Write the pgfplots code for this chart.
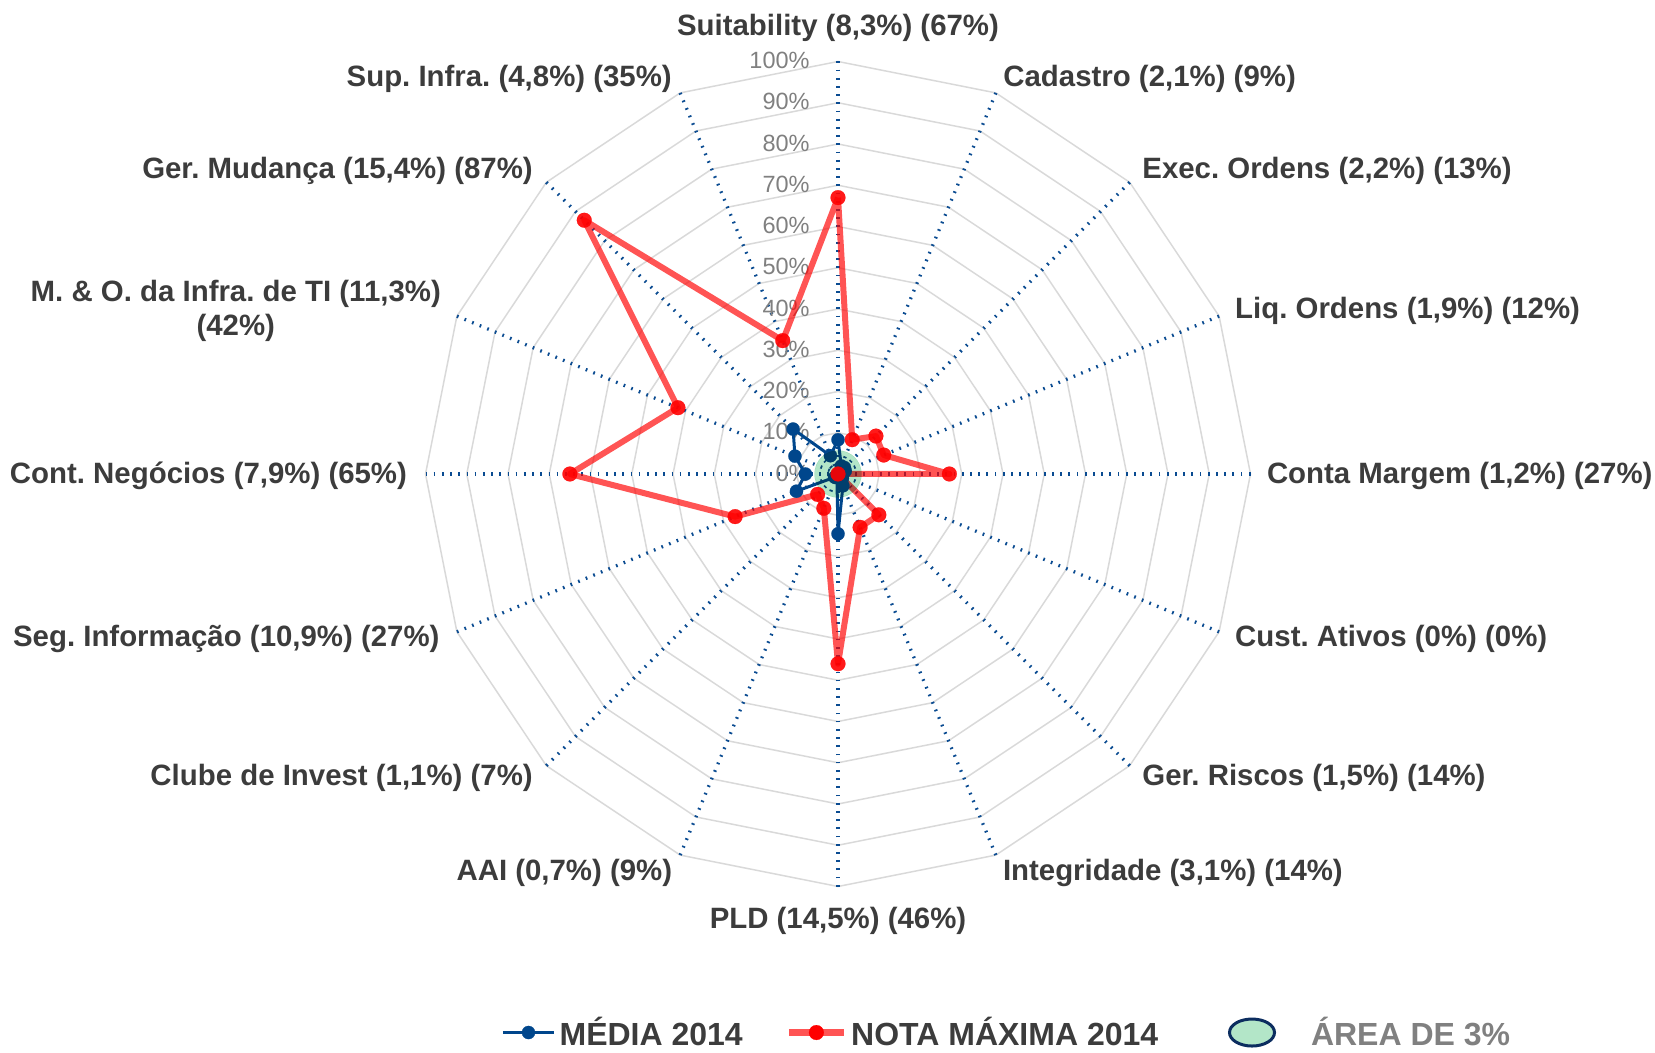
\documentclass[border=0pt]{standalone}
\usepackage{pgfplots}
\pgfplotsset{compat=1.18}
\usepackage{fontspec}
\setmainfont{Liberation Sans}
\frenchspacing
\definecolor{gridc}{RGB}{217,217,217}
\definecolor{spokec}{RGB}{10,75,145}
\definecolor{bluec}{RGB}{0,70,140}
\definecolor{areag}{RGB}{179,230,200}
\definecolor{navyc}{RGB}{12,45,95}
\definecolor{labc}{RGB}{60,60,60}
\definecolor{tickc}{RGB}{128,128,128}
\tikzset{lab/.style={font=\fontsize{14.7}{17.2}\selectfont\bfseries, text=labc, inner sep=0pt, text height=0.716em, text depth=0pt}}
\pgfplotsset{
  legblue/.style={legend image code/.code={\draw[##1, mark repeat=2, mark phase=2] plot coordinates {(0pt,0pt)(12.8pt,0pt)(25.6pt,0pt)};}},
  legred/.style={legend image code/.code={\draw[##1, mark repeat=2, mark phase=2] plot coordinates {(0pt,0pt)(13.75pt,0pt)(27.5pt,0pt)};}},
  legarea/.style={legend image code/.code={\draw[fill=areag, draw=navyc, line width=1.5pt] (12pt,0pt) ellipse [x radius=11.25pt, y radius=6.75pt]; \path[draw=none] (0pt,0pt) -- (39.5pt,0pt);}},
}

\newcommand\gridpoly[1]{\addplot[gridc, line width=0.75pt, data cs=polar, forget plot, mark=none] coordinates {(90,#1)(67.5,#1)(45,#1)(22.5,#1)(0,#1)(-22.5,#1)(-45,#1)(-67.5,#1)(-90,#1)(-112.5,#1)(-135,#1)(-157.5,#1)(-180,#1)(-202.5,#1)(-225,#1)(-247.5,#1)(-270,#1)};}
\newcommand\spoke[1]{\addplot[spokec, line width=1.65pt, dash pattern=on 0.85pt off 3.25pt, data cs=polar, forget plot, mark=none] coordinates {(#1,100)(#1,0)};}
\newcommand\tlab[1]{\node[anchor=east, inner sep=0pt, font=\fontsize{11.75}{14}\selectfont, text=tickc, text height=0.716em, text depth=0pt] at (axis cs:-6.8,#1) {#1\%};}

\begin{document}
\begin{tikzpicture}
\begin{axis}[
  x=2.0625pt, y=2.0625pt,
  xmin=-203.15, xmax=198.06, ymin=-140.12, ymax=114.91,
  enlargelimits=false, hide axis, clip=false,
  legend style={at={(axis cs:-81.6,-135.4)}, anchor=west, legend columns=3,
    draw=none, fill=none, inner sep=0pt, outer sep=0pt,
    font=\fontsize{16}{19}\selectfont\bfseries, text=labc,
    /tikz/column 2/.style={column sep=19.4pt},
    /tikz/column 4/.style={column sep=32.9pt}},
  legend cell align=left,
]
\coordinate (bbl) at (axis cs:-203.15,-140.12);
\coordinate (btr) at (axis cs:198.06,114.91);
% grid
\gridpoly{10}\gridpoly{20}\gridpoly{30}\gridpoly{40}\gridpoly{50}
\gridpoly{60}\gridpoly{70}\gridpoly{80}\gridpoly{90}\gridpoly{100}
% spokes
\spoke{90}\spoke{67.5}\spoke{45}\spoke{22.5}\spoke{0}\spoke{-22.5}\spoke{-45}\spoke{-67.5}
\spoke{-90}\spoke{-112.5}\spoke{-135}\spoke{-157.5}\spoke{180}\spoke{157.5}\spoke{135}\spoke{112.5}
% radial tick labels
\tlab{0}\tlab{10}\tlab{20}\tlab{30}\tlab{40}\tlab{50}\tlab{60}\tlab{70}\tlab{80}\tlab{90}\tlab{100}
% MEDIA 2014
\addplot[forget plot, bluec, line width=1.5pt, line join=round, data cs=polar,
  mark=*, mark size=3.3pt, mark options={solid, fill=bluec, draw=bluec, line width=0.1pt},
  mark indices={1,2,3,4,5,6,7,8,9,10,11,12,13,14,15,16}]
coordinates {
(90,8.3)(67.5,2.1)(45,2.2)(22.5,1.9)(0,1.2)(-22.5,0)(-45,1.5)(-67.5,3.1)
(-90,14.5)(-112.5,0.7)(-135,1.1)(-157.5,10.9)(-180,7.9)(-202.5,11.3)(-225,15.4)(-247.5,4.8)(-270,8.3)};
% AREA DE 3%
\addplot[forget plot, only marks, data cs=polar, mark=*, mark size=11.75pt,
  mark options={fill=areag, draw=areag, line width=0.1pt}, blend mode=multiply]
coordinates {(0,0)};
% NOTA MAXIMA 2014
\addplot[forget plot, red, draw opacity=0.67, line width=3pt, line join=round, data cs=polar,
  mark=*, mark size=3.7pt, mark options={solid, fill=red, draw=red, line width=0.1pt, opacity=0.9},
  mark indices={1,2,3,4,5,6,7,8,9,10,11,12,13,14,15,16}]
coordinates {
(90,67)(67.5,9)(45,13)(22.5,12)(0,27)(-22.5,0)(-45,14)(-67.5,14)
(-90,46)(-112.5,9)(-135,7)(-157.5,27)(-180,65)(-202.5,42)(-225,87)(-247.5,35)(-270,67)};
% legend
\addlegendimage{bluec, line width=1.5pt, mark=*, mark size=3.3pt, mark options={fill=bluec, draw=bluec, line width=0.1pt}, legblue}
\addlegendentry{MÉDIA 2014}
\addlegendimage{red, draw opacity=0.67, line width=3.3pt, mark=*, mark size=3.7pt, mark options={fill=red, draw=red, line width=0.1pt, opacity=1}, legred}
\addlegendentry{NOTA MÁXIMA 2014}
\addlegendimage{legarea}
\addlegendentry[text=tickc]{ÁREA DE 3\%}
% category labels
\node[lab, anchor=center] at (axis cs:0,108.0) {Suitability (8,3\%) (67\%)};
\node[lab, anchor=west] at (axis cs:40,95.6) {Cadastro (2,1\%) (9\%)};
\node[lab, anchor=west] at (axis cs:73.7,73.4) {Exec. Ordens (2,2\%) (13\%)};
\node[lab, anchor=west] at (axis cs:96.2,39.4) {Liq. Ordens (1,9\%) (12\%)};
\node[lab, anchor=west] at (axis cs:103.9,-0.5) {Conta Margem (1,2\%) (27\%)};
\node[lab, anchor=west] at (axis cs:96.2,-40.1) {Cust. Ativos (0\%) (0\%)};
\node[lab, anchor=west] at (axis cs:73.7,-73.9) {Ger. Riscos (1,5\%) (14\%)};
\node[lab, anchor=west] at (axis cs:39.9,-96.7) {Integridade (3,1\%) (14\%)};
\node[lab, anchor=center] at (axis cs:0,-108.5) {PLD (14,5\%) (46\%)};
\node[lab, anchor=east] at (axis cs:-40.1,-96.7) {AAI (0,7\%) (9\%)};
\node[lab, anchor=east] at (axis cs:-73.9,-73.9) {Clube de Invest (1,1\%) (7\%)};
\node[lab, anchor=east] at (axis cs:-96.5,-40.1) {Seg. Informação (10,9\%) (27\%)};
\node[lab, anchor=east] at (axis cs:-104.4,-0.5) {Cont. Negócios (7,9\%) (65\%)};
\node[font=\fontsize{14.7}{17.2}\selectfont\bfseries, text=labc, inner sep=0pt, align=center, anchor=east] at (axis cs:-96.2,39.6) {M. \& O. da Infra. de TI (11,3\%)\\(42\%)};
\node[lab, anchor=east] at (axis cs:-73.9,73.4) {Ger. Mudança (15,4\%) (87\%)};
\node[lab, anchor=east] at (axis cs:-40.2,95.7) {Sup. Infra. (4,8\%) (35\%)};
\end{axis}
\pgfresetboundingbox
\useasboundingbox (bbl) rectangle (btr);
\end{tikzpicture}
\end{document}
